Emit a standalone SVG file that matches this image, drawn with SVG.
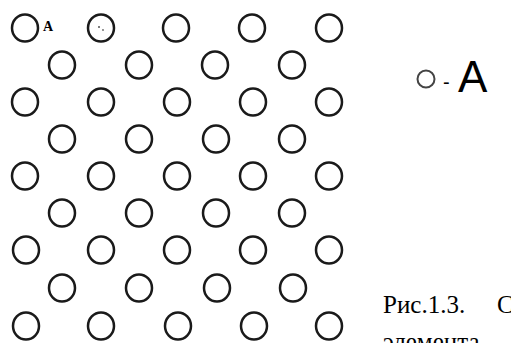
<svg xmlns="http://www.w3.org/2000/svg" width="511" height="343" viewBox="0 0 511 343">
<style>
.c{fill:none;stroke:#1a1a1a;stroke-width:2.5}
.cap{font-family:"Liberation Serif",serif;font-size:25px;fill:#000}
</style>
<defs><ellipse id="o" rx="13" ry="13.5" class="c"/></defs>
<rect width="511" height="343" fill="#fff"/>
<g id="lattice">
<use href="#o" x="25" y="28"/><use href="#o" x="101" y="28"/><use href="#o" x="176" y="28"/><use href="#o" x="252" y="28"/><use href="#o" x="329" y="28"/>
<use href="#o" x="62" y="65"/><use href="#o" x="139" y="65"/><use href="#o" x="215" y="65"/><use href="#o" x="292" y="65"/>
<use href="#o" x="25" y="102"/><use href="#o" x="101" y="102"/><use href="#o" x="177" y="102"/><use href="#o" x="253" y="102"/><use href="#o" x="329" y="102"/>
<use href="#o" x="62" y="139"/><use href="#o" x="139" y="139"/><use href="#o" x="216" y="139"/><use href="#o" x="292" y="139"/>
<use href="#o" x="25" y="176"/><use href="#o" x="101" y="176"/><use href="#o" x="177" y="176"/><use href="#o" x="253" y="176"/><use href="#o" x="329" y="176"/>
<use href="#o" x="62" y="213"/><use href="#o" x="139" y="213"/><use href="#o" x="216" y="213"/><use href="#o" x="292" y="213"/>
<use href="#o" x="26" y="250"/><use href="#o" x="101" y="250"/><use href="#o" x="177" y="250"/><use href="#o" x="253" y="250"/><use href="#o" x="329" y="250"/>
<use href="#o" x="62" y="288"/><use href="#o" x="139" y="288"/><use href="#o" x="217" y="288"/><use href="#o" x="293" y="288"/>
<use href="#o" x="26" y="326"/><use href="#o" x="101" y="326"/><use href="#o" x="178" y="326"/><use href="#o" x="254" y="326"/><use href="#o" x="329" y="326"/>
<circle cx="99" cy="27" r="1" fill="#555"/><circle cx="103" cy="30" r="0.9" fill="#666"/>
<text x="43" y="31" font-family="Liberation Serif,serif" font-weight="bold" font-size="14">A</text>
</g>
<g id="legend">
<circle cx="426" cy="79" r="8.5" fill="none" stroke="#444" stroke-width="2"/>
<text x="443" y="89" font-family="Liberation Sans,sans-serif" font-size="20">-</text>
<text x="458" y="92" font-family="Liberation Sans,sans-serif" font-size="44">A</text>
</g>
<g id="caption">
<text class="cap" x="383" y="313">Рис.1.3.</text>
<text class="cap" x="497" y="313">С</text>
<text class="cap" x="383" y="350">элемента</text>
</g>
</svg>
